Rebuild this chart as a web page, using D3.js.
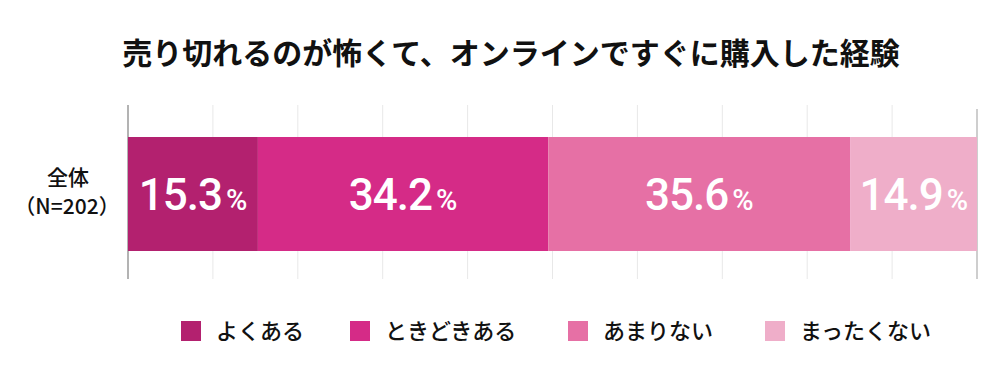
<!DOCTYPE html>
<html>
<head>
<meta charset="utf-8">
<script src="https://cdn.jsdelivr.net/npm/d3@7"></script>
<style>
  body { margin: 0; background: #fff; }
  svg { display: block; }
</style>
</head>
<body>
<div id="chart"></div>
<script>
// DATA
const chartTitle = "売り切れるのが怖くて、オンラインですぐに購入した経験";
const categories = ["全体"];
const categorySub = ["（N=202）"];
const seriesKeys = ["よくある", "ときどきある", "あまりない", "まったくない"];
const seriesValues = [15.3, 34.2, 35.6, 14.9];
const seriesColors = ["#b3216f", "#d52b87", "#e670a5", "#efaec9"];
const gridTicks = [0, 10, 20, 30, 40, 50, 60, 70, 80, 90, 100];

// SIZE
const width = 1000;
const height = 375;
const margin = { top: 137, right: 23, bottom: 124, left: 128 };

const svg = d3.select("#chart")
  .append("svg")
  .attr("width", width)
  .attr("height", height);

// SCALES
const xScale = d3.scaleLinear()
  .domain([0, 100])
  .range([margin.left, width - margin.right]);

const yScale = d3.scaleBand()
  .domain(categories)
  .range([margin.top, height - margin.bottom])
  .padding(0);

// GRID LINES
svg.append("g")
  .selectAll("line")
  .data(gridTicks)
  .join("line")
  .attr("x1", d => xScale(d))
  .attr("x2", d => xScale(d))
  .attr("y1", d => (d === 100 ? 109 : 105))
  .attr("y2", 279)
  .attr("stroke", d => (d === 0 ? "#8a8a8a" : d === 100 ? "#b4b4b4" : "#e8e8e8"))
  .attr("stroke-width", d => (d === 0 || d === 100 ? 1.3 : 1));

// STACKED DATA
const row = {};
seriesKeys.forEach((k, i) => { row[k] = seriesValues[i]; });
row.cat = categories[0];
const layers = d3.stack().keys(seriesKeys)([row]);

const barGroup = svg.append("g");
layers.forEach((layer, i) => {
  barGroup.selectAll(null)
    .data(layer)
    .join("rect")
    .attr("x", d => xScale(d[0]))
    .attr("y", d => yScale(d.data.cat))
    .attr("width", d => xScale(d[1]) - xScale(d[0]))
    .attr("height", yScale.bandwidth())
    .attr("fill", seriesColors[i]);

  // value labels
  const lbl = barGroup.selectAll(null)
    .data(layer)
    .join("text")
    .attr("x", d => (xScale(d[0]) + xScale(d[1])) / 2)
    .attr("y", d => yScale(d.data.cat) + yScale.bandwidth() / 2 + 16)
    .attr("text-anchor", "middle")
    .attr("fill", "#fff")
    .style("font-family", "Roboto, 'Liberation Sans', sans-serif")
    .style("font-weight", 500);
  lbl.append("tspan")
    .style("font-size", "44px")
    .style("letter-spacing", "-1px")
    .text(d => (d[1] - d[0]).toFixed(1));
  lbl.append("tspan")
    .attr("dx", 4)
    .style("font-size", "29px")
    .text("%");
});

// CATEGORY LABEL (two lines in one text)
const cy = yScale(categories[0]) + yScale.bandwidth() / 2;
const catLabel = svg.append("text")
  .attr("text-anchor", "middle")
  .style("font-family", "'Noto Sans CJK JP', sans-serif")
  .style("font-size", "21px")
  .style("font-weight", 500)
  .attr("fill", "#111");
catLabel.append("tspan")
  .attr("x", 68)
  .attr("y", cy - 9)
  .text(categories[0]);
catLabel.append("tspan")
  .attr("x", 67)
  .attr("y", cy + 20)
  .text(categorySub[0]);

// TITLE
svg.append("text")
  .attr("x", 511)
  .attr("y", 64)
  .attr("text-anchor", "middle")
  .style("font-family", "'Noto Sans CJK JP', sans-serif")
  .style("font-size", "30px")
  .style("font-weight", 700)
  .attr("fill", "#111")
  .text(chartTitle);

// LEGEND
const legendX = [181, 350, 568, 765];
const legend = svg.append("g")
  .selectAll("g")
  .data(seriesKeys)
  .join("g")
  .attr("transform", (d, i) => `translate(${legendX[i]},321)`);
legend.append("rect")
  .attr("width", 20)
  .attr("height", 20)
  .attr("fill", (d, i) => seriesColors[i]);
legend.append("text")
  .attr("x", 35)
  .attr("y", 18)
  .style("font-family", "'Noto Sans CJK JP', sans-serif")
  .style("font-size", "22px")
  .style("font-weight", 500)
  .attr("fill", "#111")
  .text(d => d);
</script>
</body>
</html>
